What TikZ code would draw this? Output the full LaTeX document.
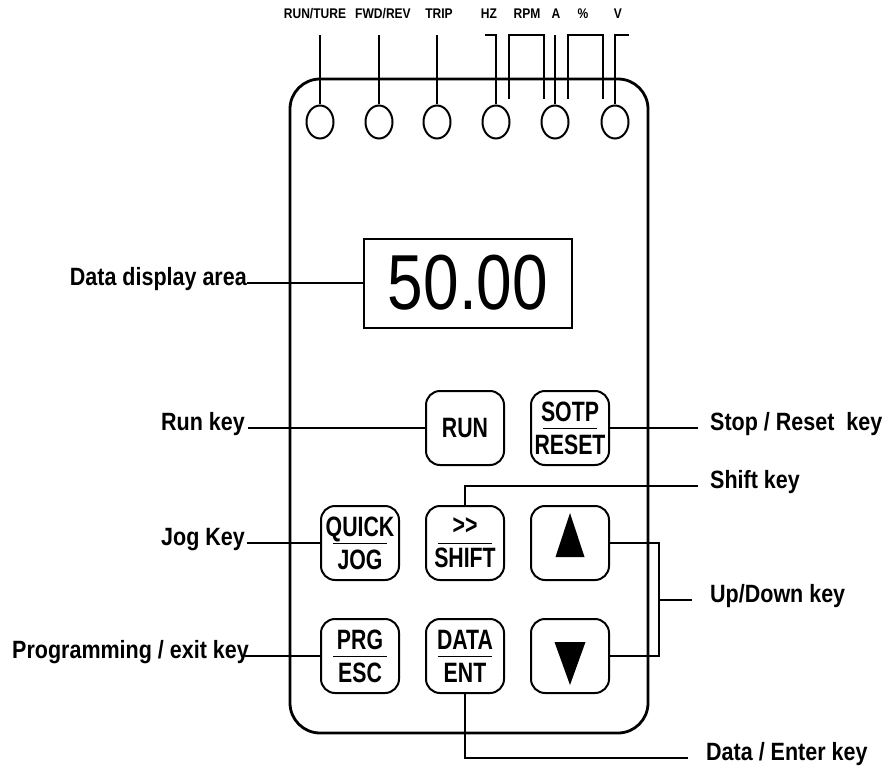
\documentclass[tikz,border=0pt]{standalone}
\usepackage{fontspec}
\setmainfont{Liberation Sans}
\newfontfamily\nfont[FakeStretch=0.86]{Liberation Sans}
\newfontfamily\kfont[FakeStretch=0.76]{Liberation Sans}
\newfontfamily\dfont[FakeStretch=0.82]{Liberation Sans}
\usetikzlibrary{shapes.geometric}
\begin{document}
\begin{tikzpicture}[x=1pt,y=-1pt,
  lbl/.style={font=\nfont\bfseries\fontsize{25}{30}\selectfont, inner sep=0pt},
  toplbl/.style={font=\nfont\bfseries\fontsize{14}{16}\selectfont, inner sep=0pt},
  key/.style={draw, line width=2pt, rounded corners=14pt, minimum width=78pt, minimum height=74pt, inner sep=0pt, align=center, font=\kfont\bfseries\fontsize{28}{33}\selectfont},
  led/.style={draw, ellipse, line width=2pt, minimum width=27pt, minimum height=33pt, inner sep=0pt},
  wire/.style={line width=2pt},
  divider/.style={line width=1pt}]
\useasboundingbox (0,0) rectangle (886,773);
% body
\node[draw, line width=2.8pt, rounded corners=30pt, minimum width=358pt, minimum height=654pt, inner sep=0pt] (body) at (469,406) {};
% LEDs
\node[led] (led1) at (320,122) {};
\node[led] (led2) at (379,122) {};
\node[led] (led3) at (437,122) {};
\node[led] (led4) at (496,122) {};
\node[led] (led5) at (555,122) {};
\node[led] (led6) at (615,122) {};
% top labels
\node[toplbl, anchor=mid] (t1) at (315,16) {RUN/TURE};
\node[toplbl, anchor=mid] (t2) at (383,16) {FWD/REV};
\node[toplbl, anchor=mid] (t3) at (439,16) {TRIP};
\node[toplbl, anchor=mid] (t4) at (489,16) {HZ};
\node[toplbl, anchor=mid] (t5) at (527,16) {RPM};
\node[toplbl, anchor=mid] (t6) at (556,16) {A};
\node[toplbl, anchor=mid] (t7) at (583,16) {\%};
\node[toplbl, anchor=mid] (t8) at (618,16) {V};
\coordinate (ltop) at (0,35);
\draw[wire] (led1.north) -- (led1.north |- ltop);
\draw[wire] (led2.north) -- (led2.north |- ltop);
\draw[wire] (led3.north) -- (led3.north |- ltop);
\draw[wire] (led4.north) -- (led4.north |- ltop) -- (485,35);
\draw[wire] (509,99) -- (509,35) -- (544,35) -- (544,99);
\draw[wire] (led5.north) -- (led5.north |- ltop);
\draw[wire] (568,99) -- (568,35) -- (603,35) -- (603,99);
\draw[wire] (led6.north) -- (led6.north |- ltop) -- (629,35);
% display
\node[draw, line width=2pt, minimum width=208pt, minimum height=89pt, inner sep=0pt, font=\dfont\fontsize{78}{78}\selectfont] (disp) at (468,283) {50.00};
% keys
\node[key] (run) at (465,428) {RUN};
\node[key] (sotp) at (570,428) {SOTP\\RESET};
\node[key] (quick) at (360,543) {QUICK\\JOG};
\node[key] (shift) at (465,543) {>>\\SHIFT};
\node[key] (up) at (570,543) {};
\node[key] (prg) at (360,656) {PRG\\ESC};
\node[key] (data) at (465,656) {DATA\\ENT};
\node[key] (down) at (570,656) {};
\foreach \k in {sotp,quick,shift,prg,data}
  \draw[divider] ([xshift=-27pt]\k.center) -- ([xshift=27pt]\k.center);
\fill ([shift={(0,-30)}]up.center) -- ([shift={(-14.5,14)}]up.center) -- ([shift={(14.5,14)}]up.center) -- cycle;
\fill ([shift={(-15.5,-14)}]down.center) -- ([shift={(15.5,-14)}]down.center) -- ([shift={(0,29)}]down.center) -- cycle;
% left labels
\node[lbl, anchor=mid east] (displbl) at (247,283) {Data display area};
\node[lbl, anchor=mid east] (runlbl) at (245,428) {Run key};
\node[lbl, anchor=mid east] (joglbl) at (245,543) {Jog Key};
\node[lbl, anchor=mid east] (prglbl) at (249,656) {Programming / exit key};
\draw[wire] (disp.west) -- (displbl.mid east);
\draw[wire] (run.west) -- ([xshift=3pt]runlbl.mid east);
\draw[wire] (quick.west) -- ([xshift=2pt]joglbl.mid east);
\draw[wire] (prg.west) -- ([xshift=-4pt]prglbl.mid east);
% right labels
\node[lbl, anchor=mid west] (stoplbl) at (710,428) {Stop / Reset\ \ key};
\node[lbl, anchor=mid west] (shiftlbl) at (710,486) {Shift key};
\node[lbl, anchor=mid west] (udlbl) at (710,600) {Up/Down key};
\node[lbl, anchor=mid west] (datalbl) at (706,758) {Data / Enter key};
\draw[wire] (sotp.east) -- ([xshift=-12pt]stoplbl.mid west);
\draw[wire] (shift.north) |- ([xshift=-12pt]shiftlbl.mid west);
\coordinate (brk) at (659,600);
\draw[wire] (up.east) -| (brk) |- (down.east);
\draw[wire] (brk) -- ([xshift=-18pt]udlbl.mid west);
\draw[wire] (data.south) |- ([xshift=-18pt]datalbl.mid west);
\end{tikzpicture}
\end{document}
